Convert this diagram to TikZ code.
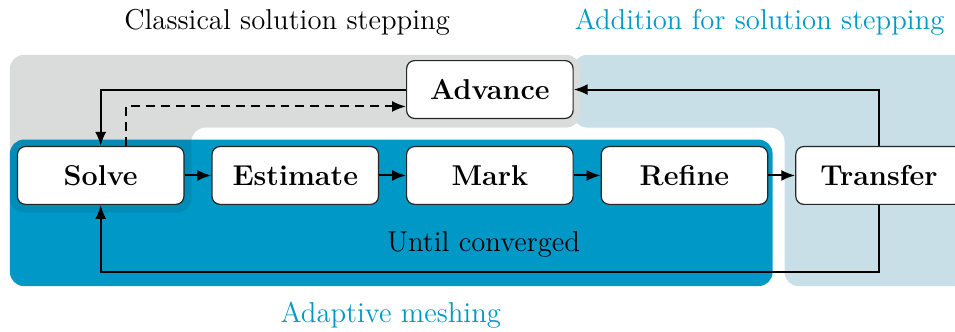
\documentclass[tikz,border=0pt]{standalone}
\usepackage{tikz}
\usetikzlibrary{arrows.meta, positioning}
\definecolor{MeshBlue}{RGB}{0,152,199}
\definecolor{StepGrey}{RGB}{218,219,219}
\definecolor{AddBlue}{RGB}{200,223,231}

\begin{document}
\begin{tikzpicture}[x=0.5pt, y=-0.5pt, node distance=13.5pt, every node/.style={font=\Large},
        block/.style={draw=black!85, line width=0.6pt, rectangle, rounded corners=4pt, fill=white, minimum width=83.5pt, minimum height=29pt, inner sep=0pt, font=\Large\bfseries},
        arr/.style={-{Latex[length=7pt, width=5.5pt]}, line width=1pt}]
    \useasboundingbox (0,0) rectangle (958,333);

    % background regions
    \fill[AddBlue, rounded corners=7pt] (575,55) -- (970,55) -- (970,287) -- (787,287) -- (787,128) -- (575,128) -- cycle;
    \fill[StepGrey, rounded corners=7pt] (10,55) -- (582,55) -- (582,128) -- (192,128) -- (192,213) -- (10,213) -- cycle;
    \fill[MeshBlue, rounded corners=7pt] (10,140) rectangle (775,287);
    \begin{scope}
        \clip[rounded corners=7pt] (10,140) rectangle (775,287);
        \fill[black, fill opacity=0.08, rounded corners=7pt] (10,55) -- (582,55) -- (582,128) -- (192,128) -- (192,213) -- (10,213) -- cycle;
    \end{scope}

    \node (classical) at (288,22) {Classical solution stepping};
    \node[text=MeshBlue] (addition) at (762,22) {Addition for solution stepping};
    \node[text=MeshBlue] (meshing) at (392,316) {Adaptive meshing};
    \node (converged) at (485,245) {Until converged};

    \node[block] (Solve) at (101,176) {Solve};
    \node[block, right=of Solve] (Estimate) {Estimate};
    \node[block, right=of Estimate] (Mark) {Mark};
    \node[block, right=of Mark] (Refine) {Refine};
    \node[block, right=of Refine] (Transfer) {Transfer};
    \node[block, above=of Mark] (Advance) {Advance};

    \draw[arr] (Solve) -- (Estimate);
    \draw[arr] (Estimate) -- (Mark);
    \draw[arr] (Mark) -- (Refine);
    \draw[arr] (Refine) -- (Transfer);
    \draw[arr] (Transfer.north) |- (Advance.east);
    \draw[arr] (Advance.west) -| (Solve.north);
    \draw[arr, dash pattern=on 4.5pt off 3pt] ([xshift=12.5pt]Solve.north) |- ([yshift=-8.5pt]Advance.west);
    \draw[arr] (Transfer.south) -- ++(0pt,-33.5pt) -| (Solve.south);
\end{tikzpicture}
\end{document}
